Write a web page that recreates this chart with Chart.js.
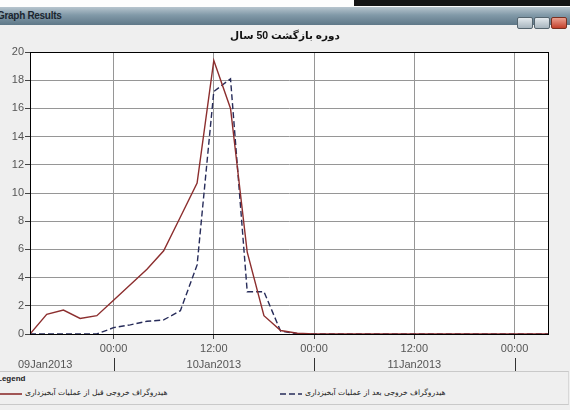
<!DOCTYPE html>
<html>
<head>
<meta charset="utf-8">
<script src="https://cdn.jsdelivr.net/npm/chart.js@4.4.0/dist/chart.umd.min.js"></script>
<style>
body { margin:0; width:570px; height:410px; overflow:hidden; background:#efefef; position:relative;
       font-family: Arial, "Liberation Sans", "DejaVu Sans", sans-serif; }
#top { position:absolute; left:0; top:0; width:570px; height:7px; background:#fdfdfd; }
#top div { position:absolute; left:354px; top:0; width:216px; height:6px; background:#151515; }
#bar { position:absolute; left:0; top:7px; width:570px; height:18px;
       background:linear-gradient(#b7c5ce, #8199a8 45%, #5f7888); }
#bar span { position:absolute; left:-3px; top:3px; font-size:10px; font-weight:bold; color:#1b2630; letter-spacing:-0.3px; }
.btn { position:absolute; top:10px; width:14px; height:10px; border:1px solid #55656f; border-radius:2px;
       background:linear-gradient(#e3e9ed,#a7b5be); }
#close { background:linear-gradient(#eba08f,#c3402b); border-color:#7a3020; }
#wrap { position:absolute; left:0; top:25px; width:570px; height:347px; }
#legend { position:absolute; left:0; top:371px; width:568px; height:32px; border-top:1px solid #c9c9c9;
          border-bottom:1px solid #c9c9c9; border-right:1px solid #d8d8d8; background:#efefef; }
#legend .cap { position:absolute; left:-3px; top:2px; font-size:8px; font-weight:bold; color:#222; }
.item { position:absolute; top:16px; width:260px; height:12px; }
.item svg { position:absolute; left:0; top:4px; }
.item span { position:absolute; top:0; left:25px; width:200px; text-align:left; direction:ltr;
             white-space:nowrap; font-size:7.6px; color:#222; font-family:"DejaVu Sans", sans-serif; }
</style>
</head>
<body>
<div id="top"><div></div></div>
<div id="bar"><span>Graph Results</span>
  <div class="btn" style="left:517px"></div>
  <div class="btn" style="left:534px"></div>
  <div class="btn" id="close" style="left:551px"></div>
</div>
<div id="wrap"><canvas id="grafico" width="570" height="347"></canvas></div>
<div id="legend"><div class="cap">Legend</div></div>
<script>
// titulo y nombres de series
const chartTitle = 'دوره بازگشت 50 سال';
const seriesNames = ['هیدروگراف خروجی قبل از عملیات آبخیزداری', 'هیدروگراف خروجی بعد از عملیات آبخیزداری'];

// horas relativas a 10Jan2013 00:00
const hours = [-10, -8, -6, -4, -2, 0, 2, 4, 6, 8, 10, 12, 14, 16, 18, 20, 22,
               24, 26, 28, 30, 32, 34, 36, 38, 40, 42, 44, 46, 48, 50, 52];
const flowBefore = [0, 1.4, 1.7, 1.1, 1.3, 2.4, 3.5, 4.6, 5.9, 8.3, 10.7, 19.4, 16.0, 5.8, 1.3, 0.25, 0.05,
                    0, 0, 0, 0, 0, 0, 0, 0, 0, 0, 0, 0, 0, 0, 0];
const flowAfter = [0, 0, 0, 0, 0, 0.45, 0.65, 0.9, 1.0, 1.65, 4.9, 17.2, 18.1, 3.0, 3.0, 0.2, 0.02,
                   0, 0, 0, 0, 0, 0, 0, 0, 0, 0, 0, 0, 0, 0, 0];

// etiquetas del eje x
const timeTicks = [0, 12, 24, 36, 48];
const timeLabels = ['00:00', '12:00', '00:00', '12:00', '00:00'];
const dateLabels = ['09Jan2013', '10Jan2013', '11Jan2013'];
const dayStarts = [-24, 0, 24];
const dayBreaks = [0, 24, 48];
const yTicks = [0, 2, 4, 6, 8, 10, 12, 14, 16, 18, 20];

const colors = ['#8c2e2e', '#272c5a'];
const dashes = [[], [6, 3]];

Chart.defaults.font.family = 'Arial, "Liberation Sans", "DejaVu Sans", sans-serif';

// fondo blanco, marco del area y fila de fechas
const marcoFechas = {
    id: 'marcoFechas',
    beforeDraw(chart) {
        const c = chart.ctx, a = chart.chartArea;
        c.save();
        c.fillStyle = '#ffffff';
        c.fillRect(a.left, a.top, a.right - a.left, a.bottom - a.top);
        c.restore();
    },
    afterDraw(chart) {
        const c = chart.ctx, a = chart.chartArea, x = chart.scales.x;
        c.save();
        c.strokeStyle = '#000';
        c.lineWidth = 1;
        c.strokeRect(Math.round(a.left) + 0.5, Math.round(a.top) + 0.5,
                     Math.round(a.right - a.left), Math.round(a.bottom - a.top));
        c.font = '11px Arial, "Liberation Sans", sans-serif';
        c.fillStyle = '#555';
        c.textBaseline = 'middle';
        c.textAlign = 'center';
        dateLabels.forEach((d, i) => {
            const w = c.measureText(d).width;
            let px = x.getPixelForValue(dayStarts[i] + 12);
            px = Math.max(px, a.left + w / 2 - 12);
            c.fillText(d, px, a.bottom + 31);
        });
        c.strokeStyle = '#333';
        dayBreaks.forEach(h => {
            const px = Math.round(x.getPixelForValue(h)) + 0.5;
            c.beginPath();
            c.moveTo(px, a.bottom + 24);
            c.lineTo(px, a.bottom + 37);
            c.stroke();
        });
        c.restore();
    }
};

const ctx = document.getElementById('grafico').getContext('2d');
const chart = new Chart(ctx, {
    type: 'line',
    data: {
        datasets: [flowBefore, flowAfter].map((serie, k) => ({
            label: seriesNames[k],
            data: hours.map((h, i) => ({ x: h, y: serie[i] })),
            borderColor: colors[k],
            borderWidth: 1.4,
            borderDash: dashes[k],
            pointRadius: 0,
            tension: 0,
            fill: false
        }))
    },
    options: {
        responsive: false,
        animation: false,
        layout: { padding: 0 },
        scales: {
            x: {
                type: 'linear',
                min: -10,
                max: 52,
                afterBuildTicks: s => { s.ticks = timeTicks.map(v => ({ value: v })); },
                afterFit: s => { s.height = 38; },
                ticks: {
                    callback: (v, i) => timeLabels[i],
                    color: '#555',
                    font: { size: 11 },
                    padding: 3,
                    maxRotation: 0,
                    autoSkip: false
                },
                grid: { color: '#969696', tickLength: 5, tickColor: '#444' },
                border: { color: '#000' }
            },
            y: {
                min: 0,
                max: 20,
                afterBuildTicks: s => { s.ticks = yTicks.map(v => ({ value: v })); },
                afterFit: s => { s.width = 30; },
                ticks: { color: '#555', font: { size: 11 }, padding: 1 },
                grid: { color: '#969696', tickLength: 5, tickColor: '#444' },
                border: { color: '#000' }
            },
            // eje vacio a la derecha para dejar el margen
            yDer: {
                position: 'right',
                min: 0,
                max: 20,
                afterFit: s => { s.width = 22; },
                ticks: { display: false },
                grid: { display: false },
                border: { display: false }
            }
        },
        plugins: {
            legend: { display: false },
            tooltip: { enabled: false },
            title: {
                display: true,
                text: '\u202B' + chartTitle + '\u202C',
                color: '#111',
                font: { size: 10.5, weight: 'bold' },
                padding: { top: 4.5, bottom: 9.9 }
            }
        }
    },
    plugins: [marcoFechas]
});

// leyenda en el panel inferior
const leyenda = document.getElementById('legend');
const posiciones = [0, 280];
chart.data.datasets.forEach((ds, k) => {
    const item = document.createElement('div');
    item.className = 'item';
    item.style.left = posiciones[k] + 'px';
    item.innerHTML = '<svg width="22" height="4"><line x1="0" y1="2" x2="22" y2="2" stroke="' + ds.borderColor +
        '" stroke-width="1.6" stroke-dasharray="' + (ds.borderDash.length ? ds.borderDash.join(' ') : 'none') + '"/></svg>' +
        '<span>' + ds.label + '</span>';
    leyenda.appendChild(item);
});
</script>
</body>
</html>
